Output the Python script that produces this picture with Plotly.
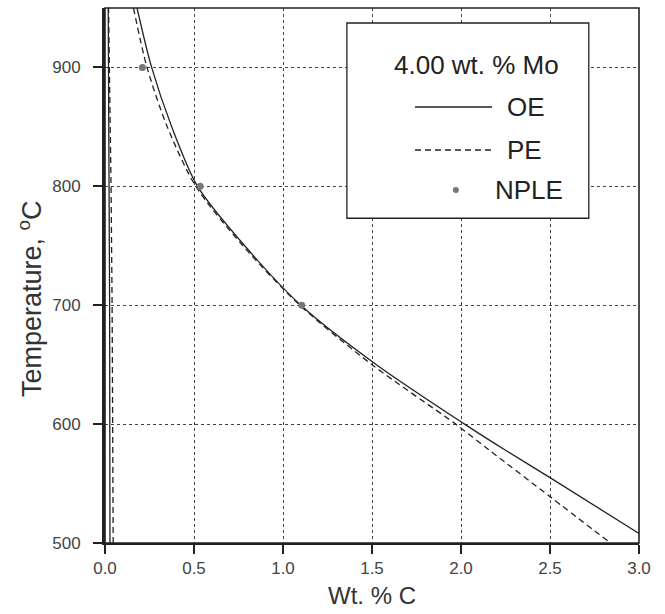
import plotly.graph_objects as go

# ---- data ----
T_oe = [950, 900, 850, 800, 750, 700, 650, 600, 578, 555, 508]
C_oe = [0.180, 0.262, 0.375, 0.520, 0.785, 1.100, 1.525, 2.020, 2.250, 2.500, 3.000]

T_pe = [950, 900, 850, 800, 750, 700, 650, 600, 578, 539, 500]
C_pe = [0.160, 0.236, 0.350, 0.510, 0.775, 1.095, 1.500, 1.970, 2.160, 2.500, 2.840]

T_oe_fer = [500, 700, 950]
C_oe_fer = [0.028, 0.026, 0.018]

T_pe_fer = [500, 600, 700, 800, 900, 950]
C_pe_fer = [0.046, 0.044, 0.040, 0.034, 0.025, 0.020]

T_nple = [900, 800, 700]
C_nple = [0.21, 0.535, 1.105]

x_ticks = [0.0, 0.5, 1.0, 1.5, 2.0, 2.5, 3.0]
y_ticks = [500, 600, 700, 800, 900]

legend_title = "4.00 wt. % Mo"
legend_names = ["OE", "PE", "NPLE"]

LINE = "#222222"
FONT = "Liberation Sans, Arial, sans-serif"
DASH = "6px,4px"

fig = go.Figure()
fig.add_trace(go.Scatter(x=C_oe, y=T_oe, mode="lines", line=dict(color=LINE, width=1.3, shape="spline", smoothing=0.8),
                         name="OE", showlegend=False))
fig.add_trace(go.Scatter(x=C_pe, y=T_pe, mode="lines", line=dict(color=LINE, width=1.3, dash=DASH, shape="spline", smoothing=0.8),
                         name="PE", showlegend=False))
fig.add_trace(go.Scatter(x=C_oe_fer, y=T_oe_fer, mode="lines", line=dict(color=LINE, width=1.3),
                         showlegend=False))
fig.add_trace(go.Scatter(x=C_pe_fer, y=T_pe_fer, mode="lines", line=dict(color=LINE, width=1.3, dash=DASH),
                         showlegend=False))
fig.add_trace(go.Scatter(x=C_nple, y=T_nple, mode="markers", marker=dict(color="#777777", size=7),
                         name="NPLE", showlegend=False))

axis_common = dict(
    showgrid=True, gridcolor="#444444", gridwidth=1, griddash="dot",
    ticks="outside", ticklen=9, tickwidth=2, tickcolor="#222222",
    tickfont=dict(family=FONT, size=17, color="#444444"),
    zeroline=False,
)
fig.update_xaxes(range=[0, 3.0], tickvals=x_ticks, ticktext=[f"{v:.1f}" for v in x_ticks],
                 showline=True, linecolor=LINE, linewidth=2, ticklabelstandoff=0,
                 title=dict(text="Wt. % C", font=dict(family=FONT, size=24, color="#333333"), standoff=10),
                 **axis_common)
fig.update_yaxes(range=[500, 950], tickvals=y_ticks, ticktext=[str(v) for v in y_ticks],
                 showline=True, linecolor=LINE, linewidth=3, ticklabelstandoff=9,
                 **axis_common)

shapes = []
# frame (top & right)
shapes.append(dict(type="rect", xref="paper", yref="paper", x0=0, x1=1, y0=0, y1=1,
                   line=dict(color=LINE, width=1.6), fillcolor="rgba(0,0,0,0)", layer="above"))
# legend box
shapes.append(dict(type="rect", xref="paper", yref="paper", x0=0.453, x1=0.906, y0=0.607, y1=0.972,
                   line=dict(color=LINE, width=1.3), fillcolor="white", layer="above"))
# legend samples
shapes.append(dict(type="line", xref="paper", yref="paper", x0=0.5805, x1=0.7247, y0=0.815, y1=0.815,
                   line=dict(color=LINE, width=1.3), layer="above"))
shapes.append(dict(type="line", xref="paper", yref="paper", x0=0.5805, x1=0.7247, y0=0.7346, y1=0.7346,
                   line=dict(color=LINE, width=1.3, dash=DASH), layer="above"))
shapes.append(dict(type="circle", xref="paper", yref="paper", xsizemode="pixel", ysizemode="pixel",
                   xanchor=0.657, yanchor=0.660, x0=-3, x1=3, y0=-3, y1=3,
                   line=dict(color="#777777", width=0), fillcolor="#777777", layer="above"))

ann_font = dict(family=FONT, size=26, color="#222222")
annotations = [
    dict(xref="paper", yref="paper", x=0.695, y=0.893, text=legend_title, showarrow=False,
         xanchor="center", yanchor="middle", font=ann_font),
    dict(xref="paper", yref="paper", x=0.749, y=0.815, text=legend_names[0], showarrow=False,
         xanchor="left", yanchor="middle", font=ann_font),
    dict(xref="paper", yref="paper", x=0.749, y=0.7346, text=legend_names[1], showarrow=False,
         xanchor="left", yanchor="middle", font=ann_font),
    dict(xref="paper", yref="paper", x=0.7266, y=0.660, text=legend_names[2], showarrow=False,
         xanchor="left", yanchor="middle", font=ann_font),
    # y-axis title (placed off-centre as in the reference)
    dict(xref="paper", yref="paper", x=-0.1404, y=0.456, text="Temperature, <sup>o</sup>C",
         textangle=-90, showarrow=False, xanchor="center", yanchor="middle",
         font=dict(family=FONT, size=27, color="#333333")),
]

fig.update_layout(
    width=665, height=614,
    margin=dict(l=105, r=26, t=8, b=71),
    plot_bgcolor="white", paper_bgcolor="white",
    shapes=shapes, annotations=annotations,
    showlegend=False,
    font=dict(family=FONT),
)

fig.write_html("out.html")
